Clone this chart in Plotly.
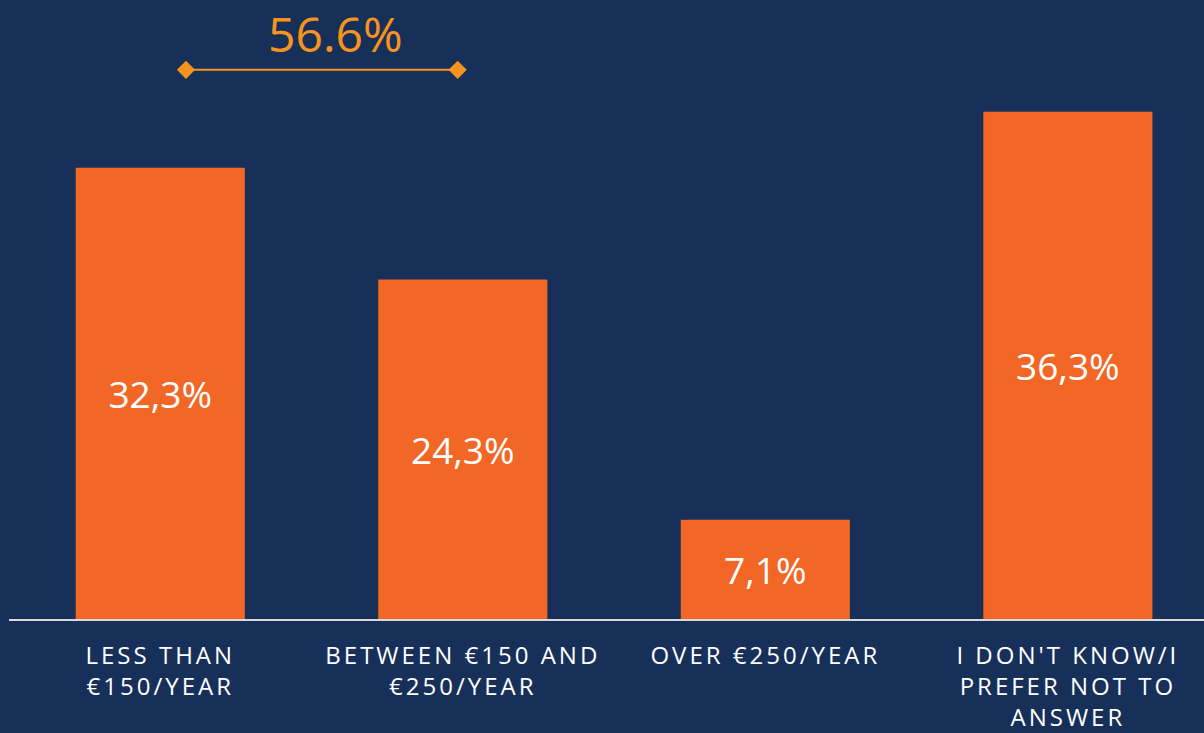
import plotly.graph_objects as go

# Survey answers
categories = [
    "LESS THAN<br>€150/YEAR",
    "BETWEEN €150 AND<br>€250/YEAR",
    "OVER €250/YEAR",
    "I DON'T KNOW/I<br>PREFER NOT TO<br>ANSWER",
]
values = [32.3, 24.3, 7.1, 36.3]
value_labels = ["32,3%", "24,3%", "7,1%", "36,3%"]

BG = "#17305A"
BAR = "#F26726"
ACCENT = "#F7941D"
FONT = "Open Sans"

# combined share of the first two answers
combined = values[0] + values[1]

fig = go.Figure()

fig.add_trace(go.Bar(
    x=list(range(len(values))),
    y=values,
    width=0.559,
    marker=dict(color=BAR, line=dict(width=0)),
    text=value_labels,
    textposition="inside",
    insidetextanchor="middle",
    textangle=0,
    textfont=dict(family=FONT, size=37, color="white"),
    hoverinfo="skip",
    showlegend=False,
))

# bracket over the first two bars
bracket_y = 39.3
fig.add_trace(go.Scatter(
    x=[0.085, 0.983],
    y=[bracket_y, bracket_y],
    mode="lines+markers",
    line=dict(color=ACCENT, width=2),
    marker=dict(symbol="diamond", size=14, color=ACCENT),
    hoverinfo="skip",
    showlegend=False,
))
fig.add_annotation(
    x=0.58, y=41.9, xref="x", yref="y",
    text=f"{combined:.1f}%",
    showarrow=False,
    xanchor="center", yanchor="middle",
    font=dict(family=FONT, size=48, color=ACCENT),
)

tick_text = [f'<span style="letter-spacing:3px">{c}</span>' for c in categories]

fig.update_layout(
    width=1204,
    height=733,
    margin=dict(l=9, r=0, t=0, b=109),
    plot_bgcolor=BG,
    paper_bgcolor=BG,
    font=dict(family=FONT, color="white"),
    xaxis=dict(
        range=[-0.5, 3.45],
        tickmode="array",
        tickvals=list(range(len(categories))),
        ticktext=tick_text,
        tickfont=dict(family=FONT, size=24, color="white"),
        ticklabelstandoff=14,
        showgrid=False,
        zeroline=False,
        showline=True,
        linecolor="#D9D9D9",
        linewidth=2,
        ticks="",
        tickangle=0,
        fixedrange=True,
    ),
    yaxis=dict(
        range=[0, 44.3],
        showgrid=False,
        zeroline=False,
        showticklabels=False,
        fixedrange=True,
    ),
)

fig.write_html(
    "out.html",
    config={"displayModeBar": False},
    post_script="document.body.style.margin='0';document.body.style.background='#17305A';",
)
